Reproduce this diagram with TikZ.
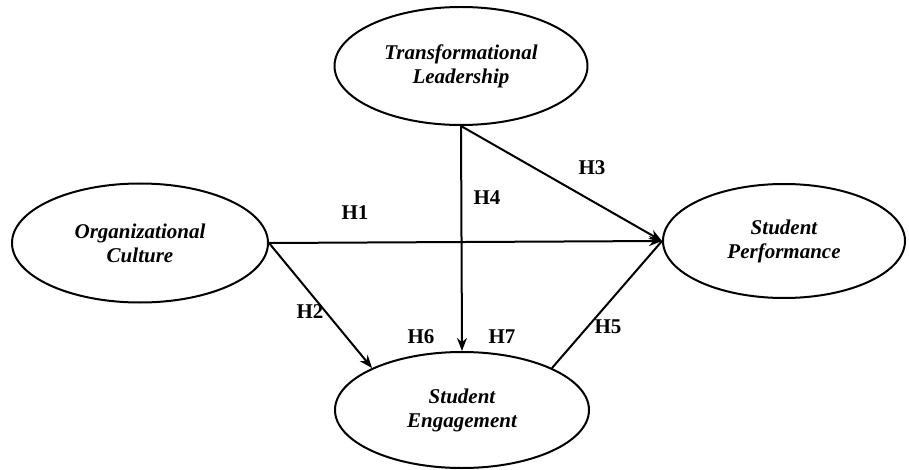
\documentclass[tikz,border=0pt]{standalone}
\usepackage{fontspec}
\setmainfont{Liberation Serif}
\usetikzlibrary{shapes.geometric,arrows.meta}
\tikzset{
  construct/.style={ellipse, draw, line width=2pt, inner sep=0pt, align=center,
    font=\fontsize{21}{24}\selectfont\bfseries\itshape},
  path/.style={line width=2pt, -{Stealth[length=13pt,width=10pt]}},
  plain/.style={line width=2pt},
  hyp/.style={font=\fontsize{21}{24}\selectfont\bfseries}
}
\begin{document}
\begin{tikzpicture}[x=1pt,y=-1pt]
\useasboundingbox (0,0) rectangle (909,470);
\node[construct, minimum width=253pt, minimum height=118pt] (tl) at (461,66) {Transformational\\Leadership};
\node[construct, minimum width=256pt, minimum height=119pt] (oc) at (140,243) {Organizational\\Culture};
\node[construct, minimum width=242pt, minimum height=114pt] (sp) at (784,241) {Student\\Performance};
\node[construct, minimum width=254pt, minimum height=116pt] (se) at (462,410) {Student\\Engagement};
\draw[path] (oc.east) -- (sp.west);
\draw[path] (oc.east) -- (se.155);
\draw[path] (tl.south) -- (sp.west);
\draw[path] (tl.south) -- (se.north);
\draw[plain] (se.25) -- (sp.west);
\node[hyp] (h1) at (355,213) {H1};
\node[hyp] (h2) at (310,312) {H2};
\node[hyp] (h3) at (592,168) {H3};
\node[hyp] (h4) at (487,198) {H4};
\node[hyp] (h5) at (608,327) {H5};
\node[hyp] (h6) at (421,337) {H6};
\node[hyp] (h7) at (502,337) {H7};
\end{tikzpicture}
\end{document}
